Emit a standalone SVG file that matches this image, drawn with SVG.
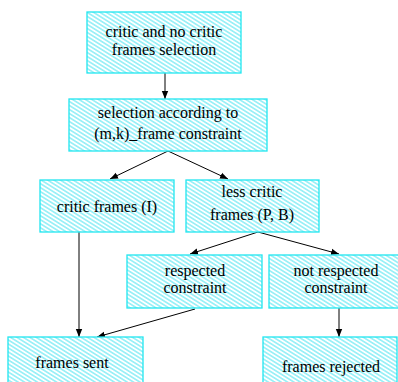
<svg xmlns="http://www.w3.org/2000/svg" width="398" height="382" viewBox="0 0 398 382">
<style>
.box{fill:url(#hatch);stroke:#22e6f0;stroke-width:1.3}
.t{font-family:'Liberation Serif','DejaVu Serif',serif;font-size:16px;fill:#000;text-anchor:middle}
.c{stroke:#000;stroke-width:1;fill:none;marker-end:url(#ah)}
</style>
<defs>
<pattern id="hatch" patternUnits="userSpaceOnUse" width="8" height="3.4" patternTransform="rotate(32)">
<rect width="8" height="3.4" fill="#fff"/>
<line x1="0" y1="1.7" x2="8" y2="1.7" stroke="#3fe3f0" stroke-width="0.9"/>
</pattern>
<marker id="ah" viewBox="0 0 10 10" refX="10" refY="5" markerWidth="8" markerHeight="8" markerUnits="userSpaceOnUse" orient="auto">
<path d="M0,1 L10,5 L0,9 Z" fill="#000"/>
</marker>
</defs>
<g id="connectors">
<line class="c" x1="165" y1="73" x2="165" y2="99"/>
<line class="c" x1="168" y1="151" x2="110" y2="179"/>
<line class="c" x1="168" y1="151" x2="228" y2="179"/>
<line class="c" x1="79" y1="232" x2="79" y2="337"/>
<line class="c" x1="258" y1="232" x2="190" y2="254"/>
<line class="c" x1="258" y1="232" x2="339" y2="254"/>
<line class="c" x1="195" y1="309" x2="97" y2="337"/>
<line class="c" x1="339" y1="308" x2="339" y2="337"/>
</g>
<g id="n1"><rect class="box" x="87" y="12" width="154" height="61"/><text class="t" x="164" y="37">critic and no critic</text><text class="t" x="164" y="55">frames selection</text></g>
<g id="n2"><rect class="box" x="69" y="99" width="198" height="52"/><text class="t" x="168" y="118">selection according to</text><text class="t" x="168" y="139">(m,k)_frame constraint</text></g>
<g id="n3"><rect class="box" x="40" y="180" width="134" height="52"/><text class="t" x="107" y="212">critic frames (I)</text></g>
<g id="n4"><rect class="box" x="186" y="180" width="133" height="52"/><text class="t" x="252" y="197">less critic</text><text class="t" x="252" y="220">frames (P, B)</text></g>
<g id="n5"><rect class="box" x="127" y="255" width="135" height="53"/><text class="t" x="195" y="276">respected</text><text class="t" x="195" y="293">constraint</text></g>
<g id="n6"><rect class="box" x="269" y="255" width="134" height="53"/><text class="t" x="336" y="276">not respected</text><text class="t" x="336" y="293">constraint</text></g>
<g id="n7"><rect class="box" x="8" y="337" width="135" height="50"/><text class="t" x="72" y="368">frames sent</text></g>
<g id="n8"><rect class="box" x="263" y="337" width="134" height="50"/><text class="t" x="331" y="372">frames rejected</text></g>
</svg>
